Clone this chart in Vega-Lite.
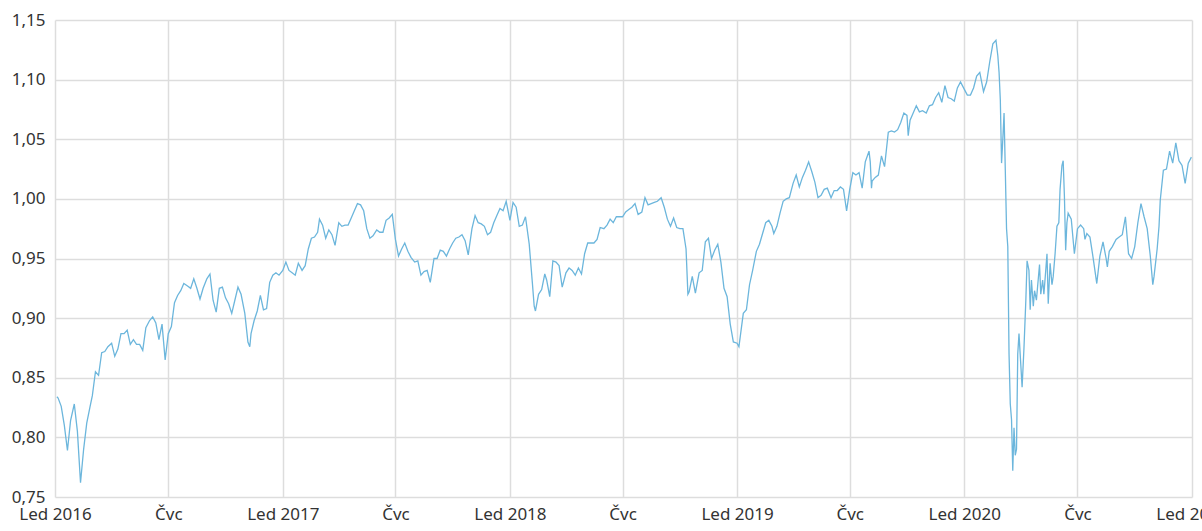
{
 "$schema": "https://vega.github.io/schema/vega-lite/v6.json",
 "width": 1137,
 "height": 477,
 "autosize": {"type": "none"},
 "padding": {"left": 55, "top": 20, "right": 10, "bottom": 34},
 "background": "white",
 "config": {
  "view": {"stroke": null},
  "axis": {"labelFont": "Noto Sans", "labelFontSize": 17, "labelColor": "#333333", "gridColor": "#dddddd", "gridWidth": 1.5, "domain": false, "ticks": false}
 },
 "data": {"values": [
  {"date":"2016-01-04","value":0.834},{"date":"2016-01-06","value":0.833},{"date":"2016-01-11","value":0.826},{"date":"2016-01-16","value":0.810},{"date":"2016-01-21","value":0.789},{"date":"2016-01-26","value":0.814},
  {"date":"2016-02-01","value":0.828},{"date":"2016-02-06","value":0.805},{"date":"2016-02-11","value":0.762},{"date":"2016-02-16","value":0.790},{"date":"2016-02-21","value":0.812},{"date":"2016-02-26","value":0.825},
  {"date":"2016-03-01","value":0.835},{"date":"2016-03-06","value":0.855},{"date":"2016-03-11","value":0.852},{"date":"2016-03-16","value":0.871},{"date":"2016-03-21","value":0.872},{"date":"2016-03-26","value":0.876},
  {"date":"2016-04-01","value":0.879},{"date":"2016-04-06","value":0.868},{"date":"2016-04-11","value":0.874},{"date":"2016-04-16","value":0.887},{"date":"2016-04-21","value":0.887},{"date":"2016-04-26","value":0.890},
  {"date":"2016-05-01","value":0.878},{"date":"2016-05-06","value":0.882},{"date":"2016-05-11","value":0.878},{"date":"2016-05-16","value":0.878},{"date":"2016-05-21","value":0.873},{"date":"2016-05-26","value":0.892},
  {"date":"2016-06-01","value":0.898},{"date":"2016-06-06","value":0.901},{"date":"2016-06-11","value":0.896},{"date":"2016-06-16","value":0.882},{"date":"2016-06-21","value":0.895},{"date":"2016-06-26","value":0.865},
  {"date":"2016-07-01","value":0.887},{"date":"2016-07-06","value":0.893},{"date":"2016-07-11","value":0.913},{"date":"2016-07-16","value":0.919},{"date":"2016-07-21","value":0.923},{"date":"2016-07-26","value":0.929},
  {"date":"2016-08-01","value":0.927},{"date":"2016-08-06","value":0.925},{"date":"2016-08-11","value":0.933},{"date":"2016-08-16","value":0.925},{"date":"2016-08-21","value":0.916},{"date":"2016-08-26","value":0.925},
  {"date":"2016-09-01","value":0.933},{"date":"2016-09-06","value":0.937},{"date":"2016-09-11","value":0.915},{"date":"2016-09-16","value":0.905},{"date":"2016-09-21","value":0.925},{"date":"2016-09-26","value":0.926},
  {"date":"2016-10-01","value":0.917},{"date":"2016-10-06","value":0.912},{"date":"2016-10-11","value":0.904},{"date":"2016-10-16","value":0.915},{"date":"2016-10-21","value":0.926},{"date":"2016-10-26","value":0.920},
  {"date":"2016-11-01","value":0.904},{"date":"2016-11-06","value":0.880},{"date":"2016-11-09","value":0.876},{"date":"2016-11-11","value":0.887},{"date":"2016-11-16","value":0.898},{"date":"2016-11-21","value":0.906},{"date":"2016-11-26","value":0.919},
  {"date":"2016-12-01","value":0.907},{"date":"2016-12-06","value":0.908},{"date":"2016-12-11","value":0.930},{"date":"2016-12-16","value":0.936},{"date":"2016-12-21","value":0.938},{"date":"2016-12-26","value":0.936},
  {"date":"2017-01-01","value":0.940},{"date":"2017-01-06","value":0.947},{"date":"2017-01-11","value":0.940},{"date":"2017-01-16","value":0.938},{"date":"2017-01-21","value":0.936},{"date":"2017-01-26","value":0.946},
  {"date":"2017-02-01","value":0.940},{"date":"2017-02-06","value":0.944},{"date":"2017-02-11","value":0.958},{"date":"2017-02-16","value":0.967},{"date":"2017-02-21","value":0.968},{"date":"2017-02-26","value":0.972},
  {"date":"2017-03-01","value":0.983},{"date":"2017-03-06","value":0.978},{"date":"2017-03-11","value":0.967},{"date":"2017-03-16","value":0.974},{"date":"2017-03-21","value":0.970},{"date":"2017-03-26","value":0.961},
  {"date":"2017-04-01","value":0.980},{"date":"2017-04-06","value":0.977},{"date":"2017-04-11","value":0.978},{"date":"2017-04-16","value":0.978},{"date":"2017-04-21","value":0.984},{"date":"2017-04-26","value":0.990},
  {"date":"2017-05-01","value":0.996},{"date":"2017-05-06","value":0.995},{"date":"2017-05-11","value":0.990},{"date":"2017-05-16","value":0.975},{"date":"2017-05-21","value":0.967},{"date":"2017-05-26","value":0.969},
  {"date":"2017-06-01","value":0.974},{"date":"2017-06-06","value":0.972},{"date":"2017-06-11","value":0.972},{"date":"2017-06-16","value":0.982},{"date":"2017-06-21","value":0.984},{"date":"2017-06-26","value":0.987},
  {"date":"2017-07-01","value":0.966},{"date":"2017-07-06","value":0.952},{"date":"2017-07-11","value":0.958},{"date":"2017-07-16","value":0.963},{"date":"2017-07-21","value":0.956},{"date":"2017-07-26","value":0.951},
  {"date":"2017-08-01","value":0.947},{"date":"2017-08-06","value":0.948},{"date":"2017-08-11","value":0.936},{"date":"2017-08-16","value":0.939},{"date":"2017-08-21","value":0.940},{"date":"2017-08-26","value":0.930},
  {"date":"2017-09-01","value":0.950},{"date":"2017-09-06","value":0.950},{"date":"2017-09-11","value":0.957},{"date":"2017-09-16","value":0.956},{"date":"2017-09-21","value":0.952},{"date":"2017-09-26","value":0.958},
  {"date":"2017-10-01","value":0.963},{"date":"2017-10-06","value":0.967},{"date":"2017-10-11","value":0.968},{"date":"2017-10-16","value":0.970},{"date":"2017-10-21","value":0.965},{"date":"2017-10-26","value":0.953},
  {"date":"2017-11-01","value":0.975},{"date":"2017-11-06","value":0.986},{"date":"2017-11-11","value":0.980},{"date":"2017-11-16","value":0.979},{"date":"2017-11-21","value":0.977},{"date":"2017-11-26","value":0.970},
  {"date":"2017-12-01","value":0.972},{"date":"2017-12-06","value":0.980},{"date":"2017-12-11","value":0.986},{"date":"2017-12-16","value":0.992},{"date":"2017-12-21","value":0.990},{"date":"2017-12-26","value":0.998},
  {"date":"2018-01-01","value":0.982},{"date":"2018-01-06","value":0.997},{"date":"2018-01-11","value":0.993},{"date":"2018-01-16","value":0.977},{"date":"2018-01-21","value":0.978},{"date":"2018-01-26","value":0.985},
  {"date":"2018-02-01","value":0.962},{"date":"2018-02-06","value":0.930},{"date":"2018-02-09","value":0.910},{"date":"2018-02-11","value":0.906},{"date":"2018-02-16","value":0.920},{"date":"2018-02-21","value":0.924},{"date":"2018-02-26","value":0.937},
  {"date":"2018-03-01","value":0.932},{"date":"2018-03-06","value":0.918},{"date":"2018-03-11","value":0.948},{"date":"2018-03-16","value":0.947},{"date":"2018-03-21","value":0.944},{"date":"2018-03-26","value":0.926},
  {"date":"2018-04-01","value":0.938},{"date":"2018-04-06","value":0.942},{"date":"2018-04-11","value":0.940},{"date":"2018-04-16","value":0.936},{"date":"2018-04-21","value":0.942},{"date":"2018-04-26","value":0.937},
  {"date":"2018-05-01","value":0.954},{"date":"2018-05-06","value":0.963},{"date":"2018-05-11","value":0.963},{"date":"2018-05-16","value":0.963},{"date":"2018-05-21","value":0.966},{"date":"2018-05-26","value":0.976},
  {"date":"2018-06-01","value":0.975},{"date":"2018-06-06","value":0.978},{"date":"2018-06-11","value":0.983},{"date":"2018-06-16","value":0.980},{"date":"2018-06-21","value":0.985},{"date":"2018-06-26","value":0.985},
  {"date":"2018-07-01","value":0.985},{"date":"2018-07-06","value":0.989},{"date":"2018-07-11","value":0.991},{"date":"2018-07-16","value":0.993},{"date":"2018-07-21","value":0.996},{"date":"2018-07-26","value":0.987},
  {"date":"2018-08-01","value":0.989},{"date":"2018-08-06","value":1.001},{"date":"2018-08-11","value":0.995},{"date":"2018-08-16","value":0.996},{"date":"2018-08-21","value":0.997},{"date":"2018-08-26","value":0.998},
  {"date":"2018-09-01","value":1.001},{"date":"2018-09-06","value":0.993},{"date":"2018-09-11","value":0.983},{"date":"2018-09-16","value":0.977},{"date":"2018-09-21","value":0.984},{"date":"2018-09-26","value":0.976},
  {"date":"2018-10-01","value":0.975},{"date":"2018-10-06","value":0.975},{"date":"2018-10-11","value":0.958},{"date":"2018-10-14","value":0.920},{"date":"2018-10-16","value":0.922},{"date":"2018-10-21","value":0.935},{"date":"2018-10-26","value":0.921},
  {"date":"2018-11-01","value":0.938},{"date":"2018-11-06","value":0.940},{"date":"2018-11-11","value":0.964},{"date":"2018-11-16","value":0.967},{"date":"2018-11-21","value":0.950},{"date":"2018-11-26","value":0.957},
  {"date":"2018-12-01","value":0.962},{"date":"2018-12-06","value":0.947},{"date":"2018-12-11","value":0.925},{"date":"2018-12-16","value":0.918},{"date":"2018-12-21","value":0.895},{"date":"2018-12-26","value":0.880},
  {"date":"2019-01-01","value":0.879},{"date":"2019-01-04","value":0.876},{"date":"2019-01-06","value":0.884},{"date":"2019-01-11","value":0.904},{"date":"2019-01-16","value":0.907},{"date":"2019-01-21","value":0.928},{"date":"2019-01-26","value":0.940},
  {"date":"2019-02-01","value":0.956},{"date":"2019-02-06","value":0.962},{"date":"2019-02-11","value":0.971},{"date":"2019-02-16","value":0.980},{"date":"2019-02-21","value":0.982},{"date":"2019-02-26","value":0.977},
  {"date":"2019-03-01","value":0.971},{"date":"2019-03-06","value":0.977},{"date":"2019-03-11","value":0.988},{"date":"2019-03-16","value":0.998},{"date":"2019-03-21","value":1.000},{"date":"2019-03-26","value":1.001},
  {"date":"2019-04-01","value":1.013},{"date":"2019-04-06","value":1.020},{"date":"2019-04-11","value":1.010},{"date":"2019-04-16","value":1.018},{"date":"2019-04-21","value":1.024},{"date":"2019-04-26","value":1.031},
  {"date":"2019-05-01","value":1.023},{"date":"2019-05-06","value":1.014},{"date":"2019-05-11","value":1.001},{"date":"2019-05-16","value":1.003},{"date":"2019-05-21","value":1.008},{"date":"2019-05-26","value":1.009},
  {"date":"2019-06-01","value":1.001},{"date":"2019-06-06","value":1.007},{"date":"2019-06-11","value":1.007},{"date":"2019-06-16","value":1.010},{"date":"2019-06-21","value":1.008},{"date":"2019-06-26","value":0.990},
  {"date":"2019-07-01","value":1.008},{"date":"2019-07-06","value":1.022},{"date":"2019-07-11","value":1.020},{"date":"2019-07-16","value":1.022},{"date":"2019-07-21","value":1.009},{"date":"2019-07-26","value":1.031},
  {"date":"2019-08-01","value":1.040},{"date":"2019-08-03","value":1.031},{"date":"2019-08-05","value":1.009},{"date":"2019-08-06","value":1.015},{"date":"2019-08-11","value":1.018},{"date":"2019-08-16","value":1.020},{"date":"2019-08-21","value":1.036},{"date":"2019-08-26","value":1.027},
  {"date":"2019-09-01","value":1.056},{"date":"2019-09-06","value":1.057},{"date":"2019-09-11","value":1.056},{"date":"2019-09-16","value":1.058},{"date":"2019-09-21","value":1.064},{"date":"2019-09-26","value":1.072},
  {"date":"2019-10-01","value":1.070},{"date":"2019-10-03","value":1.053},{"date":"2019-10-06","value":1.066},{"date":"2019-10-11","value":1.072},{"date":"2019-10-16","value":1.078},{"date":"2019-10-21","value":1.073},{"date":"2019-10-26","value":1.074},
  {"date":"2019-11-01","value":1.072},{"date":"2019-11-06","value":1.078},{"date":"2019-11-11","value":1.079},{"date":"2019-11-16","value":1.085},{"date":"2019-11-21","value":1.089},{"date":"2019-11-26","value":1.081},
  {"date":"2019-12-01","value":1.095},{"date":"2019-12-06","value":1.085},{"date":"2019-12-11","value":1.084},{"date":"2019-12-16","value":1.082},{"date":"2019-12-21","value":1.093},{"date":"2019-12-26","value":1.098},
  {"date":"2020-01-01","value":1.092},{"date":"2020-01-06","value":1.087},{"date":"2020-01-11","value":1.087},{"date":"2020-01-16","value":1.093},{"date":"2020-01-21","value":1.103},{"date":"2020-01-26","value":1.106},
  {"date":"2020-02-01","value":1.090},{"date":"2020-02-06","value":1.098},{"date":"2020-02-11","value":1.115},{"date":"2020-02-16","value":1.130},{"date":"2020-02-21","value":1.133},{"date":"2020-02-24","value":1.120},{"date":"2020-02-26","value":1.106},{"date":"2020-02-28","value":1.083},
  {"date":"2020-03-01","value":1.030},{"date":"2020-03-03","value":1.050},{"date":"2020-03-05","value":1.072},{"date":"2020-03-07","value":1.024},{"date":"2020-03-09","value":0.975},{"date":"2020-03-11","value":0.960},{"date":"2020-03-13","value":0.870},{"date":"2020-03-15","value":0.828},{"date":"2020-03-17","value":0.815},{"date":"2020-03-19","value":0.772},{"date":"2020-03-21","value":0.808},{"date":"2020-03-23","value":0.785},{"date":"2020-03-25","value":0.790},{"date":"2020-03-27","value":0.870},{"date":"2020-03-29","value":0.887},
  {"date":"2020-04-01","value":0.860},{"date":"2020-04-03","value":0.842},{"date":"2020-04-06","value":0.875},{"date":"2020-04-09","value":0.915},{"date":"2020-04-11","value":0.948},{"date":"2020-04-14","value":0.940},{"date":"2020-04-16","value":0.907},{"date":"2020-04-18","value":0.932},{"date":"2020-04-21","value":0.910},{"date":"2020-04-23","value":0.923},{"date":"2020-04-26","value":0.915},
  {"date":"2020-05-01","value":0.945},{"date":"2020-05-03","value":0.920},{"date":"2020-05-06","value":0.932},{"date":"2020-05-08","value":0.920},{"date":"2020-05-11","value":0.940},{"date":"2020-05-13","value":0.954},{"date":"2020-05-15","value":0.912},{"date":"2020-05-18","value":0.946},{"date":"2020-05-21","value":0.928},{"date":"2020-05-23","value":0.935},{"date":"2020-05-26","value":0.954},{"date":"2020-05-29","value":0.977},
  {"date":"2020-06-01","value":0.980},{"date":"2020-06-03","value":1.008},{"date":"2020-06-06","value":1.028},{"date":"2020-06-08","value":1.032},{"date":"2020-06-10","value":1.002},{"date":"2020-06-12","value":0.957},{"date":"2020-06-14","value":0.980},{"date":"2020-06-16","value":0.988},{"date":"2020-06-21","value":0.983},{"date":"2020-06-26","value":0.954},
  {"date":"2020-07-01","value":0.975},{"date":"2020-07-06","value":0.978},{"date":"2020-07-11","value":0.975},{"date":"2020-07-13","value":0.966},{"date":"2020-07-16","value":0.971},{"date":"2020-07-21","value":0.968},{"date":"2020-07-26","value":0.951},
  {"date":"2020-08-01","value":0.929},{"date":"2020-08-06","value":0.952},{"date":"2020-08-11","value":0.964},{"date":"2020-08-16","value":0.950},{"date":"2020-08-18","value":0.943},{"date":"2020-08-21","value":0.956},{"date":"2020-08-26","value":0.960},
  {"date":"2020-09-01","value":0.966},{"date":"2020-09-06","value":0.968},{"date":"2020-09-11","value":0.970},{"date":"2020-09-16","value":0.985},{"date":"2020-09-21","value":0.954},{"date":"2020-09-26","value":0.950},
  {"date":"2020-10-01","value":0.960},{"date":"2020-10-06","value":0.980},{"date":"2020-10-11","value":0.996},{"date":"2020-10-16","value":0.985},{"date":"2020-10-21","value":0.975},{"date":"2020-10-26","value":0.952},{"date":"2020-10-30","value":0.928},
  {"date":"2020-11-01","value":0.935},{"date":"2020-11-06","value":0.958},{"date":"2020-11-09","value":0.977},{"date":"2020-11-11","value":0.999},{"date":"2020-11-16","value":1.024},{"date":"2020-11-21","value":1.025},{"date":"2020-11-26","value":1.040},
  {"date":"2020-12-01","value":1.030},{"date":"2020-12-06","value":1.047},{"date":"2020-12-11","value":1.032},{"date":"2020-12-16","value":1.028},{"date":"2020-12-21","value":1.013},{"date":"2020-12-26","value":1.030},{"date":"2020-12-31","value":1.035}
 ]},
 "mark": {"type": "line", "color": "#6cb6dc", "strokeWidth": 1.3},
 "encoding": {
  "x": {
   "field": "date", "type": "temporal",
   "scale": {"type": "utc", "domain": [{"year": 2016, "month": 1, "date": 1, "utc": true}, {"year": 2021, "month": 1, "date": 1, "utc": true}]},
   "axis": {
    "title": null,
    "values": [
     {"year": 2016, "month": 1, "date": 1, "utc": true},{"year": 2016, "month": 7, "date": 1, "utc": true},
     {"year": 2017, "month": 1, "date": 1, "utc": true},{"year": 2017, "month": 7, "date": 1, "utc": true},
     {"year": 2018, "month": 1, "date": 1, "utc": true},{"year": 2018, "month": 7, "date": 1, "utc": true},
     {"year": 2019, "month": 1, "date": 1, "utc": true},{"year": 2019, "month": 7, "date": 1, "utc": true},
     {"year": 2020, "month": 1, "date": 1, "utc": true},{"year": 2020, "month": 7, "date": 1, "utc": true},
     {"year": 2021, "month": 1, "date": 1, "utc": true}
    ],
    "labelExpr": "utcmonth(datum.value) == 0 ? 'Led ' + utcFormat(datum.value, '%Y') : 'Čvc'",
    "labelOverlap": false, "labelFlush": false, "labelBound": false, "labelPadding": 9, "labelAlign": "center"
   }
  },
  "y": {
   "field": "value", "type": "quantitative",
   "scale": {"domain": [0.75, 1.15], "nice": false, "zero": false},
   "axis": {
    "title": null,
    "values": [0.75, 0.8, 0.85, 0.9, 0.95, 1.0, 1.05, 1.1, 1.15],
    "labelExpr": "replace(format(datum.value, '.2f'), '.', ',')",
    "labelPadding": 10
   }
  }
 }
}
